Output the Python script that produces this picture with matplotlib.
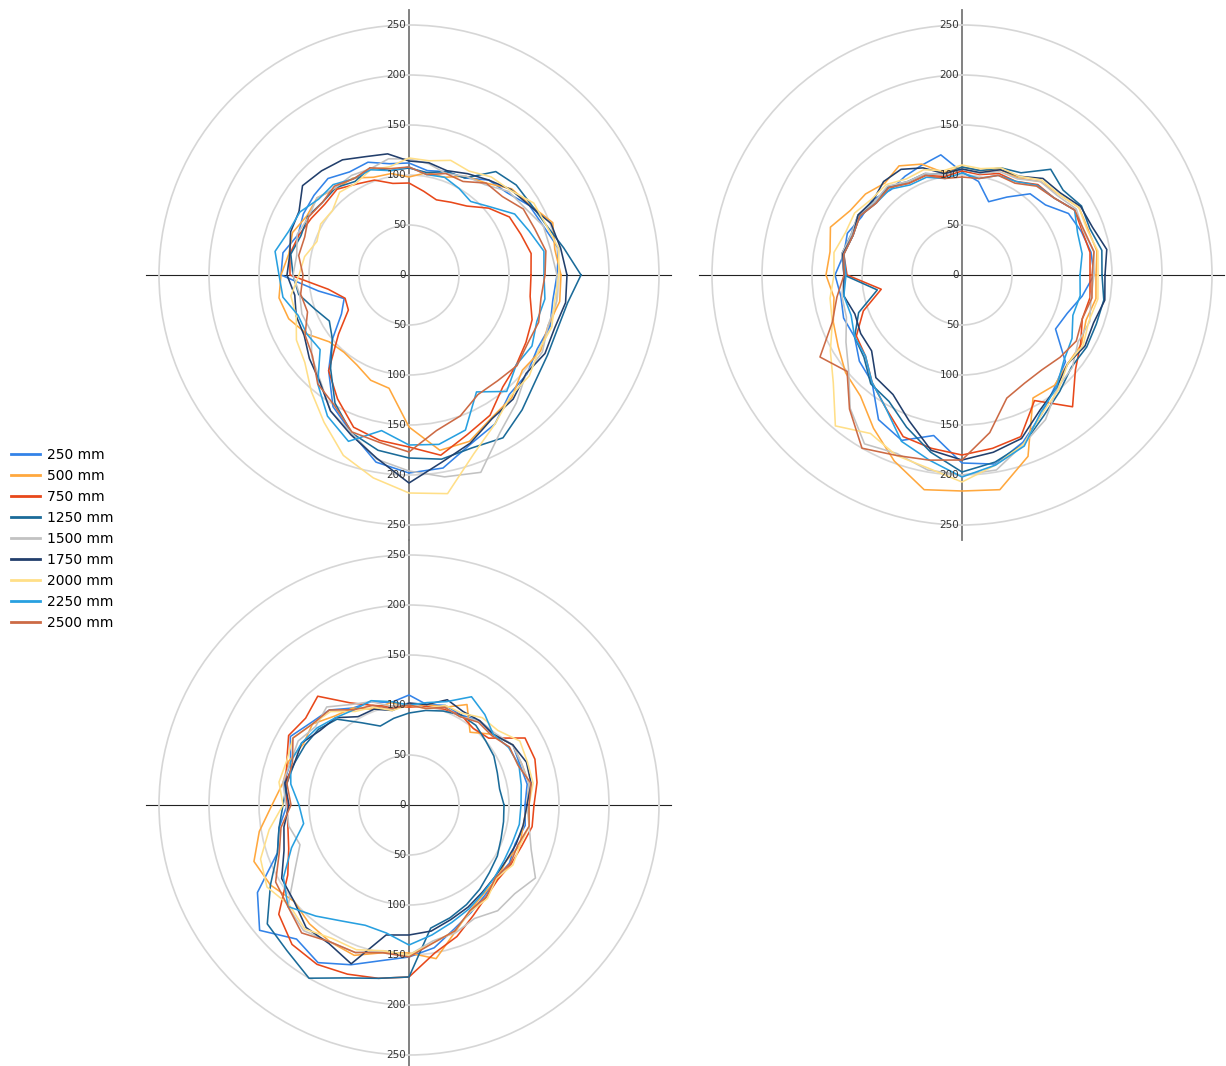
import numpy as np
import matplotlib
matplotlib.use('Agg')
from matplotlib import pyplot as plt
from matplotlib.lines import Line2D

# bearings of the samples, degrees counter-clockwise from east
angles_deg = np.arange(0, 360, 10)

labels = ['250 mm', '500 mm', '750 mm', '1250 mm', '1500 mm',
          '1750 mm', '2000 mm', '2250 mm', '2500 mm']
colors = ['#3383e8', '#ffa83e', '#e8481a', '#1b6b99', '#c2c2c2',
          '#223f6c', '#ffdf88', '#28a0e0', '#cc6a45']

# top-left plot
p1_250 = [148, 152, 143, 139, 128, 124, 112, 110, 106, 112, 113, 120, 119, 126, 124, 122, 118, 128,
          128, 92, 69, 78, 100, 125, 152, 168, 190, 198, 196, 180, 172, 156, 154, 148, 150, 146]
p1_500 = [152, 148, 153, 140, 134, 120, 114, 104, 104, 98, 103, 104, 112, 113, 120, 118, 124, 122,
          128, 132, 128, 118, 104, 101, 104, 112, 115, 152, 178, 177, 165, 160, 148, 152, 148, 153]
p1_750 = [122, 124, 119, 116, 104, 90, 84, 80, 85, 92, 93, 101, 105, 112, 110, 113, 117, 121,
          119, 82, 68, 70, 92, 125, 143, 162, 168, 172, 183, 170, 162, 146, 140, 135, 131, 123]
p1_1250 = [172, 157, 146, 141, 140, 135, 112, 110, 104, 107, 106, 114, 108, 114, 113, 117, 115, 120,
           116, 112, 100, 92, 100, 122, 148, 168, 178, 183, 187, 184, 188, 176, 165, 160, 158, 161]
p1_1500 = [148, 144, 143, 134, 130, 118, 114, 108, 113, 116, 118, 113, 115, 114, 120, 116, 119, 114,
           116, 111, 114, 113, 127, 138, 157, 168, 187, 196, 205, 210, 182, 167, 153, 154, 148, 150]
p1_1750 = [158, 154, 151, 139, 133, 124, 117, 111, 114, 114, 123, 126, 133, 136, 139, 127, 126, 121,
           122, 116, 120, 121, 130, 139, 157, 170, 186, 208, 190, 179, 166, 162, 153, 157, 155, 159]
p1_2000 = [150, 152, 146, 144, 132, 128, 120, 122, 116, 117, 110, 112, 106, 108, 100, 102, 98, 106,
           110, 120, 120, 130, 136, 152, 170, 192, 206, 218, 222, 190, 172, 158, 157, 150, 152, 148]
p1_2250 = [135, 137, 128, 122, 106, 96, 100, 104, 102, 108, 106, 112, 111, 118, 118, 126, 128, 136,
           130, 128, 118, 118, 116, 142, 163, 177, 158, 170, 172, 165, 135, 152, 140, 142, 136, 138]
p1_2500 = [136, 139, 134, 132, 122, 120, 108, 108, 102, 108, 108, 114, 111, 116, 113, 116, 111, 112,
           106, 110, 108, 120, 126, 142, 150, 167, 170, 177, 158, 150, 138, 138, 141, 137, 138, 134]

# top-right plot
p2_250 = [132, 131, 127, 123, 109, 106, 90, 78, 95, 103, 122, 117, 114, 111, 117, 116, 122, 120,
          127, 123, 126, 124, 134, 140, 167, 176, 163, 188, 192, 178, 160, 145, 135, 108, 112, 122]
p2_500 = [134, 137, 134, 135, 126, 122, 112, 112, 106, 108, 104, 118, 126, 120, 126, 129, 140, 134,
          136, 130, 137, 143, 152, 158, 177, 198, 218, 216, 218, 193, 142, 144, 138, 138, 132, 136]
p2_750 = [128, 130, 128, 130, 120, 118, 108, 108, 102, 104, 100, 106, 106, 114, 112, 118, 116, 120,
          115, 82, 105, 122, 126, 140, 153, 172, 176, 180, 176, 172, 145, 172, 148, 137, 128, 130]
p2_1250 = [140, 142, 136, 138, 132, 138, 118, 114, 106, 108, 102, 108, 108, 115, 114, 120, 118, 122,
           118, 86, 110, 124, 128, 142, 146, 162, 180, 197, 190, 180, 163, 152, 143, 144, 143, 144]
p2_1500 = [132, 134, 129, 132, 124, 122, 111, 110, 103, 106, 102, 108, 108, 116, 114, 120, 118, 122,
           118, 122, 123, 134, 148, 174, 195, 190, 198, 200, 198, 180, 167, 148, 144, 134, 136, 131]
p2_1750 = [143, 147, 139, 137, 128, 126, 114, 112, 104, 106, 103, 114, 122, 122, 116, 120, 116, 121,
           118, 120, 114, 117, 118, 134, 138, 155, 178, 185, 180, 174, 156, 147, 138, 142, 140, 145]
p2_2000 = [136, 138, 133, 135, 126, 124, 114, 114, 108, 110, 106, 112, 111, 118, 118, 124, 124, 130,
           128, 134, 138, 152, 168, 197, 183, 192, 196, 207, 193, 180, 160, 150, 138, 140, 135, 138]
p2_2250 = [118, 122, 123, 130, 120, 117, 108, 106, 98, 102, 98, 104, 104, 112, 112, 118, 116, 120,
           116, 120, 118, 124, 126, 140, 153, 177, 188, 202, 193, 182, 158, 147, 133, 127, 118, 120]
p2_2500 = [130, 134, 130, 130, 120, 116, 106, 106, 98, 98, 98, 106, 106, 114, 112, 118, 116, 120,
           118, 127, 138, 164, 150, 175, 200, 192, 188, 185, 160, 131, 125, 124, 128, 132, 128, 132]

# bottom-left plot
p3_250 = [116, 120, 118, 120, 110, 110, 104, 106, 102, 110, 104, 110, 112, 124, 128, 137, 126, 127,
          122, 132, 140, 175, 195, 175, 182, 170, 158, 152, 145, 132, 124, 118, 114, 116, 113, 118]
p3_500 = [118, 122, 120, 120, 110, 95, 116, 104, 102, 98, 104, 102, 112, 116, 126, 122, 128, 128,
          137, 152, 165, 160, 150, 155, 158, 160, 150, 148, 156, 135, 122, 116, 115, 112, 118, 116]
p3_750 = [125, 130, 134, 134, 104, 100, 104, 102, 100, 98, 100, 106, 118, 142, 135, 139, 130, 125,
          122, 123, 128, 140, 170, 182, 184, 180, 176, 172, 150, 140, 128, 120, 116, 118, 120, 125]
p3_1250 = [95, 92, 94, 98, 100, 104, 104, 100, 96, 92, 88, 84, 95, 112, 118, 120, 122, 124,
           126, 132, 140, 160, 185, 190, 200, 184, 176, 172, 125, 120, 115, 110, 105, 102, 98, 96]
p3_1500 = [118, 122, 120, 120, 112, 110, 102, 104, 98, 102, 100, 110, 116, 128, 122, 128, 126, 128,
           123, 122, 116, 132, 158, 164, 158, 157, 148, 150, 138, 136, 131, 138, 138, 146, 130, 122]
p3_1750 = [118, 124, 125, 120, 110, 110, 108, 112, 102, 102, 96, 102, 102, 114, 116, 124, 122, 126,
           120, 127, 133, 147, 150, 160, 160, 169, 132, 130, 128, 122, 118, 114, 112, 112, 114, 116]
p3_2000 = [120, 126, 126, 128, 116, 114, 106, 106, 98, 100, 96, 104, 108, 122, 126, 134, 130, 132,
           126, 142, 158, 164, 156, 162, 154, 154, 148, 150, 140, 134, 123, 122, 114, 120, 118, 122]
p3_2250 = [112, 114, 117, 115, 110, 118, 125, 110, 104, 100, 105, 111, 110, 114, 120, 124, 126, 120,
           110, 107, 125, 145, 158, 145, 134, 128, 130, 140, 132, 125, 120, 115, 112, 110, 110, 112]
p3_2500 = [120, 124, 116, 116, 108, 108, 102, 104, 98, 100, 98, 106, 110, 124, 126, 134, 124, 124,
           118, 130, 138, 154, 158, 167, 158, 157, 150, 152, 140, 134, 122, 120, 113, 117, 116, 122]

panel1 = [p1_250, p1_500, p1_750, p1_1250, p1_1500, p1_1750, p1_2000, p1_2250, p1_2500]
panel2 = [p2_250, p2_500, p2_750, p2_1250, p2_1500, p2_1750, p2_2000, p2_2250, p2_2500]
panel3 = [p3_250, p3_500, p3_750, p3_1250, p3_1500, p3_1750, p3_2000, p3_2250, p3_2500]

ring_values = [50, 100, 150, 200, 250]

W, H = 1226, 1066
RMAX = 265
fig = plt.figure(figsize=(W / 100, H / 100), dpi=100)


def add_panel(cx, cy, series):
    rect = [(cx - RMAX) / W, 1 - (cy + RMAX) / H, 2 * RMAX / W, 2 * RMAX / H]
    ax = fig.add_axes(rect, projection='polar')
    ax.patch.set_alpha(0)
    ax.set_ylim(0, RMAX)
    ax.set_xticks([])
    ax.set_yticks(ring_values)
    ax.set_yticklabels([])
    ax.yaxis.grid(True, color='#d6d6d6', lw=1.2)
    ax.spines['polar'].set_visible(False)

    # cross through the centre
    ax.plot([0, 0], [0, 262], color='#222222', lw=0.8, zorder=1)
    ax.plot([np.pi, np.pi], [0, 263], color='#222222', lw=0.8, zorder=1)
    ax.plot([np.pi / 2] * 2, [0, 265], color='#777777', lw=1.3, zorder=1, clip_on=False)
    ax.plot([3 * np.pi / 2] * 2, [0, 265], color='#777777', lw=1.3, zorder=1, clip_on=False)

    theta = np.deg2rad(np.append(angles_deg, angles_deg[0]))
    for vals, color in zip(series, colors):
        r = np.append(vals, vals[0])
        ax.plot(theta, r, color=color, lw=1.15, zorder=3)

    # radial scale written up and down the vertical axis
    ax.annotate('0', xy=(0, 0), xytext=(-2, 0), textcoords='offset points',
                ha='right', va='center', fontsize=7.5, color='#333333', zorder=4)
    for v in ring_values:
        for th in (np.pi / 2, 3 * np.pi / 2):
            ax.annotate(str(v), xy=(th, v), xytext=(-2, 0), textcoords='offset points',
                        ha='right', va='center', fontsize=7.5, color='#333333',
                        zorder=4, annotation_clip=False)
    return ax


add_panel(409, 275, panel1)
add_panel(962, 275, panel2)
add_panel(409, 805, panel3)

handles = [Line2D([], [], color=c, lw=2) for c in colors]
fig.legend(handles, labels, loc='upper left', bbox_to_anchor=(11 / W, 1 - 448 / H),
           frameon=False, fontsize=10, handlelength=2.1, handletextpad=0.5,
           labelspacing=0.5, borderpad=0, borderaxespad=0)

fig.savefig('out.png', dpi=100)
